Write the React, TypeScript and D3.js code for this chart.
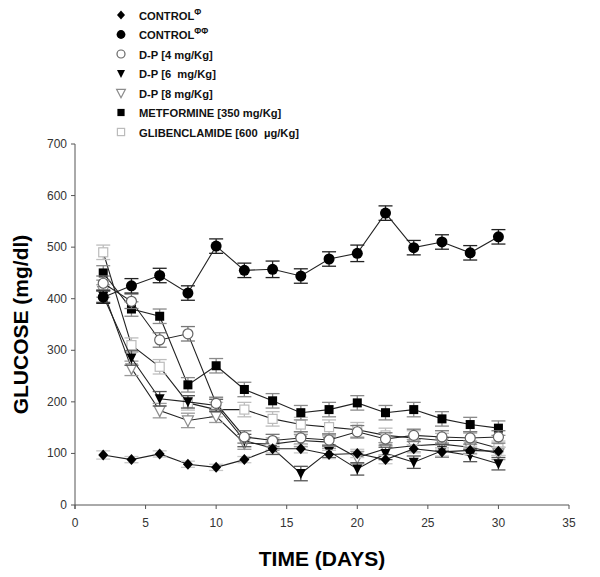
import React from "react";
import * as d3 from "d3";

const days = [2, 4, 6, 8, 10, 12, 14, 16, 18, 20, 22, 24, 26, 28, 30];
const controlPhi = [97, 88, 99, 79, 73, 88, 109, 109, 98, 100, 88, 109, 103, 106, 104];
const controlPhiErr = [8, 6, 6, 6, 6, 6, 8, 8, 8, 8, 8, 8, 8, 8, 8];
const controlPhiPhi = [403, 425, 445, 411, 502, 455, 457, 444, 477, 488, 566, 499, 510, 489, 520];
const controlPhiPhiErr = [12, 14, 14, 14, 14, 14, 16, 14, 14, 16, 14, 14, 14, 14, 14];
const dp4 = [430, 395, 320, 332, 197, 132, 125, 130, 126, 142, 128, 135, 132, 130, 132];
const dp4Err = [14, 14, 14, 14, 12, 12, 12, 12, 12, 12, 12, 12, 12, 12, 12];
const dp6 = [405, 285, 206, 200, 193, 125, 110, 61, 104, 70, 100, 83, 105, 96, 80];
const dp6Err = [12, 14, 14, 12, 12, 12, 12, 14, 12, 12, 12, 12, 12, 12, 12];
const dp8 = [415, 265, 183, 164, 172, 120, 118, 125, 122, 92, 109, 115, 118, 112, 100];
const dp8Err = [12, 14, 14, 14, 12, 12, 12, 12, 12, 12, 12, 12, 12, 12, 12];
const metformine = [450, 380, 366, 233, 270, 224, 202, 179, 185, 198, 179, 185, 167, 156, 149];
const metformineErr = [14, 14, 14, 14, 14, 14, 14, 14, 14, 14, 14, 14, 14, 14, 14];
const glibenclamide = [490, 310, 268, 198, 185, 185, 167, 156, 151, 146, 135, 130, 125, 125, 110];
const glibenclamideErr = [14, 14, 14, 14, 14, 14, 14, 14, 14, 14, 14, 14, 14, 14, 14];

const xTicks = [0, 5, 10, 15, 20, 25, 30, 35];
const yTicks = [0, 100, 200, 300, 400, 500, 600, 700];

type MarkerKind = "diamond" | "circle" | "ocircle" | "tri" | "otri" | "square" | "osquare";

const legendLabels: { label: string; sup?: string; kind: MarkerKind }[] = [
  { label: "CONTROL", sup: "Φ", kind: "diamond" },
  { label: "CONTROL", sup: "ΦΦ", kind: "circle" },
  { label: "D-P [4 mg/Kg]", kind: "ocircle" },
  { label: "D-P [6\u00a0 mg/Kg]", kind: "tri" },
  { label: "D-P [8 mg/Kg]", kind: "otri" },
  { label: "METFORMINE [350 mg/Kg]", kind: "square" },
  { label: "GLIBENCLAMIDE [600\u00a0 µg/Kg]", kind: "osquare" },
];

const series: { values: number[]; errs: number[]; kind: MarkerKind; errColor: string }[] = [
  { values: glibenclamide, errs: glibenclamideErr, kind: "osquare", errColor: "#bdbdbd" },
  { values: metformine, errs: metformineErr, kind: "square", errColor: "#8a8a8a" },
  { values: dp8, errs: dp8Err, kind: "otri", errColor: "#9a9a9a" },
  { values: dp6, errs: dp6Err, kind: "tri", errColor: "#555" },
  { values: dp4, errs: dp4Err, kind: "ocircle", errColor: "#777" },
  { values: controlPhi, errs: controlPhiErr, kind: "diamond", errColor: "#c8c8c8" },
  { values: controlPhiPhi, errs: controlPhiPhiErr, kind: "circle", errColor: "#222" },
];

function Marker({ kind, x, y, s = 1 }: { kind: MarkerKind; x: number; y: number; s?: number }) {
  switch (kind) {
    case "diamond":
      return <path d={`M${x},${y - 5.5 * s}L${x + 5 * s},${y}L${x},${y + 5.5 * s}L${x - 5 * s},${y}Z`} fill="#000" />;
    case "circle":
      return <circle cx={x} cy={y} r={5.5 * s} fill="#000" />;
    case "ocircle":
      return <circle cx={x} cy={y} r={5 * s} fill="#fff" stroke="#666" strokeWidth={1.2} />;
    case "tri":
      return <path d={`M${x - 5 * s},${y - 4.5 * s}L${x + 5 * s},${y - 4.5 * s}L${x},${y + 5.5 * s}Z`} fill="#000" />;
    case "otri":
      return (
        <path
          d={`M${x - 5.5 * s},${y - 4.5 * s}L${x + 5.5 * s},${y - 4.5 * s}L${x},${y + 6 * s}Z`}
          fill="#fff"
          stroke="#8c8c8c"
          strokeWidth={1.2}
        />
      );
    case "square":
      return <rect x={x - 4.5 * s} y={y - 4.5 * s} width={9 * s} height={9 * s} fill="#000" />;
    case "osquare":
      return (
        <rect x={x - 4.5 * s} y={y - 4.5 * s} width={9 * s} height={9 * s} fill="#fff" stroke="#bbbbbb" strokeWidth={1.2} />
      );
  }
}

export default function App() {
  const W = 600;
  const H = 577;
  const x = d3.scaleLinear().domain([0, 35]).range([75, 569]);
  const y = d3.scaleLinear().domain([0, 700]).range([505, 144]);
  const line = d3
    .line<number>()
    .x((_, i) => x(days[i]))
    .y((v) => y(v));
  const axisColor = "#555";
  const font = "'Liberation Sans', Arial, sans-serif";

  return (
    <svg width={W} height={H} style={{ position: "absolute", left: 0, top: 0, background: "#fff" }} fontFamily={font}>
      <rect width={W} height={H} fill="#fff" />
      {/* legend */}
      {legendLabels.map((l, i) => {
        const ly = 15 + i * 19.5;
        return (
          <g key={i}>
            <Marker kind={l.kind} x={121} y={ly} s={0.8} />
            <text x={139} y={ly + 4.5} fontSize={11.2} fontWeight="bold" fill="#111">
              {l.label}
              {l.sup && (
                <tspan fontSize={8.5} dy={-5}>
                  {l.sup}
                </tspan>
              )}
            </text>
          </g>
        );
      })}

      {/* axes */}
      <line x1={x(0)} x2={x(35)} y1={y(0)} y2={y(0)} stroke={axisColor} strokeWidth={1} />
      <line x1={x(0)} x2={x(0)} y1={y(0) + 4} y2={y(700)} stroke={axisColor} strokeWidth={1} />
      {xTicks.map((t) => (
        <g key={"x" + t}>
          <line x1={x(t)} x2={x(t)} y1={y(0)} y2={y(0) + 4} stroke={axisColor} />
          <text x={x(t)} y={y(0) + 22} fontSize={12} textAnchor="middle" fill="#333">
            {t}
          </text>
        </g>
      ))}
      {yTicks.map((t) => (
        <g key={"y" + t}>
          <line x1={x(0) - 4} x2={x(0)} y1={y(t)} y2={y(t)} stroke={axisColor} />
          <text x={x(0) - 8} y={y(t) + 4} fontSize={12} textAnchor="end" fill="#333">
            {t}
          </text>
        </g>
      ))}
      <text x={322} y={566} fontSize={21} fontWeight="bold" textAnchor="middle" fill="#000">
        TIME (DAYS)
      </text>
      <text
        transform={`translate(28, ${y(350)}) rotate(-90)`}
        fontSize={21}
        fontWeight="bold"
        textAnchor="middle"
        fill="#000"
      >
        GLUCOSE (mg/dl)
      </text>

      {/* series */}
      {series.map((s, si) => (
        <g key={si}>
          <path d={line(s.values) || ""} fill="none" stroke="#222" strokeWidth={1.1} />
          {s.values.map((v, i) => {
            const cx = x(days[i]);
            const top = y(v + s.errs[i]);
            const bot = y(v - s.errs[i]);
            return (
              <g key={i} stroke={s.errColor} strokeWidth={1.3}>
                <line x1={cx} x2={cx} y1={top} y2={bot} />
                <line x1={cx - 7} x2={cx + 7} y1={top} y2={top} />
                <line x1={cx - 7} x2={cx + 7} y1={bot} y2={bot} />
              </g>
            );
          })}
          {s.values.map((v, i) => (
            <Marker key={"m" + i} kind={s.kind} x={x(days[i])} y={y(v)} />
          ))}
        </g>
      ))}
    </svg>
  );
}
